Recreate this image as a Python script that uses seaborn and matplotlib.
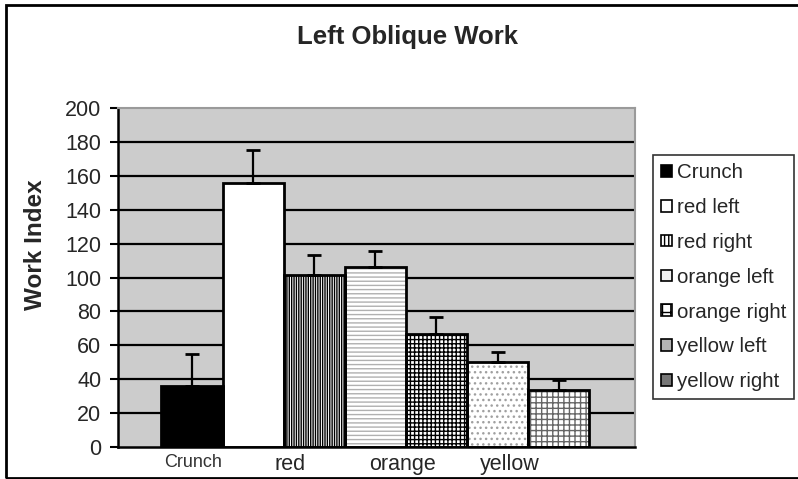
import matplotlib
matplotlib.use("Agg")
import matplotlib.pyplot as plt
import pandas as pd
import seaborn as sns
from matplotlib.patches import Patch, Rectangle

series = ["Crunch", "red left", "red right", "orange left", "orange right", "yellow left", "yellow right"]
work_index = [36.0, 155.5, 101.7, 106.2, 66.5, 50.1, 33.4]
error_up = [19.0, 19.6, 11.6, 9.2, 10.0, 5.9, 5.9]
group_labels = ["Crunch", "red", "orange", "yellow"]
yticks = [0, 20, 40, 60, 80, 100, 120, 140, 160, 180, 200]


def main():
    sns.set_theme(style="white")
    plt.rcParams["font.family"] = ["Liberation Sans", "DejaVu Sans"]
    plt.rcParams["hatch.linewidth"] = 1.0

    df = pd.DataFrame({"series": series, "value": work_index})

    fig = plt.figure(figsize=(7.98, 4.79), dpi=100)
    ax = fig.add_axes([118 / 798, 1 - 447 / 479, (635 - 118) / 798, (447 - 108) / 479])

    sns.barplot(data=df, x="series", y="value", hue="series", width=1.0,
                legend=False, ax=ax, saturation=1, errorbar=None)

    # fill + hatch per bar (hatch colour follows edgecolor, outline drawn after)
    styles = [
        ("black", "black", ""),
        ("white", "white", ""),
        ("white", "black", "|||||||"),
        ("white", "#b0b0b0", "----"),
        ("white", "black", "++++"),
        ("white", "#a0a0a0", "..."),
        ("white", "#666666", "+++"),
    ]
    for p, (fc, hc, h) in zip(ax.patches, styles):
        p.set_facecolor(fc)
        p.set_edgecolor(hc)
        p.set_hatch(h)
        p.set_linewidth(0)
        ax.add_patch(Rectangle(p.get_xy(), p.get_width(), p.get_height(),
                               fill=False, edgecolor="black", lw=2, zorder=3))

    x = list(range(len(series)))
    ax.errorbar(x, work_index, yerr=[[0] * len(series), error_up], fmt="none",
                ecolor="black", elinewidth=1.6, capsize=5, capthick=2, zorder=4)

    ax.set_facecolor("#cccccc")
    ax.set_xlim(-1.21, 7.25)
    ax.set_ylim(0, 200)
    ax.set_yticks(yticks)
    ax.set_yticklabels([str(t) for t in yticks], fontsize=15.5)
    for t in yticks[1:-1]:
        ax.axhline(t, color="black", lw=1.6, zorder=0.5)

    ax.set_xticks([0.02, 1.6, 3.45, 5.2])
    ax.set_xticklabels(group_labels, fontsize=15.5)
    ax.get_xticklabels()[0].set_fontsize(13)
    ax.get_xticklabels()[0].set_color("#333333")
    ax.tick_params(axis="x", length=0, pad=5)
    ax.tick_params(axis="y", length=6, width=1.5, color="black", pad=6, left=True)
    ax.set_xlabel("")
    ax.set_ylabel("")

    for side in ["top", "right"]:
        ax.spines[side].set_color("#9a9a9a")
        ax.spines[side].set_linewidth(1.5)
    for side in ["left", "bottom"]:
        ax.spines[side].set_color("black")
        ax.spines[side].set_linewidth(1.8)
    ax.spines["bottom"].set_zorder(5)

    fig.text(0.511, 0.922, "Left Oblique Work", ha="center", va="center",
             fontsize=18.5, fontweight="bold")
    fig.text(0.045, 0.49, "Work Index", ha="center", va="center", rotation=90,
             fontsize=17.5, fontweight="bold")

    legend_styles = [
        ("black", ""), ("white", ""), ("white", "||||"), ("#f2f2f2", ""),
        ("white", "++"), ("#b4b4b4", ""), ("#777777", ""),
    ]
    handles = [Patch(facecolor=fc, edgecolor="black", hatch=h, lw=1.2, label=s)
               for (fc, h), s in zip(legend_styles, series)]
    leg = fig.legend(handles=handles, loc="upper left",
                     bbox_to_anchor=(653 / 798, 1 - 155 / 479),
                     fontsize=14.8, frameon=True, fancybox=False,
                     handlelength=0.5, handleheight=0.5, handletextpad=0.25,
                     labelspacing=0.77, borderpad=0.4, borderaxespad=0)
    leg.get_frame().set_edgecolor("black")
    leg.get_frame().set_linewidth(1.2)

    fig.add_artist(Rectangle((6 / 798, 1.5 / 479), 1.2, 1 - 6.5 / 479,
                             transform=fig.transFigure, fill=False,
                             edgecolor="black", lw=2, clip_on=False))

    fig.savefig("out.png", dpi=100)
    plt.close(fig)


if __name__ == '__main__':
    main()
